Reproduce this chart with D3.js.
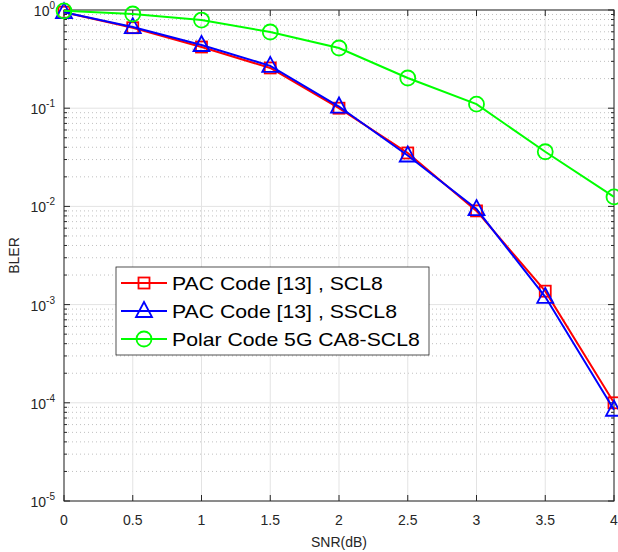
<!DOCTYPE html>
<html>
<head>
<meta charset="utf-8">
<script src="https://cdn.jsdelivr.net/npm/d3@7"></script>
<style>
  body { margin: 0; background: #fff; }
  text { font-family: "Liberation Sans", Arial, sans-serif; }
</style>
</head>
<body>
<div id="chart"></div>
<script>
// data
let snr = [0, 0.5, 1, 1.5, 2, 2.5, 3, 3.5, 4];
let pacScl = [0.95, 0.66, 0.42, 0.257, 0.1, 0.035, 0.009, 0.00137, 0.0001];
let pacSscl = [0.95, 0.67, 0.44, 0.27, 0.104, 0.033, 0.0094, 0.0012, 0.000085];
let polar5g = [0.98, 0.91, 0.79, 0.597, 0.41, 0.203, 0.11, 0.036, 0.0125];
let xTicks = [0, 0.5, 1, 1.5, 2, 2.5, 3, 3.5, 4];
let yExps = [0, -1, -2, -3, -4, -5];

let series = [
  { name: "PAC Code [13] , SCL8", values: pacScl, color: "#ff0000", marker: "square" },
  { name: "PAC Code [13] , SSCL8", values: pacSscl, color: "#0000ff", marker: "triangle" },
  { name: "Polar Code 5G CA8-SCL8", values: polar5g, color: "#00ff00", marker: "circle" }
];

let W = 618, H = 552;
let margin = { top: 10, right: 4, bottom: 51, left: 64 },
  width = W - margin.left - margin.right,
  height = H - margin.top - margin.bottom;

let x = d3.scaleLinear().domain([0, 4]).range([0, width]);
let y = d3.scaleLog().domain([1e-5, 1]).range([height, 0]);

let svg = d3.select("#chart").append("svg")
  .attr("width", W).attr("height", H);
let g = svg.append("g")
  .attr("transform", "translate(" + margin.left + "," + margin.top + ")");

// minor values for log grid
let minors = [];
for (let e = -5; e < 0; e++) {
  for (let m = 2; m <= 9; m++) minors.push(m * Math.pow(10, e));
}

// minor dotted grid
g.selectAll(".minor").data(minors).enter().append("line")
  .attr("x1", 0).attr("x2", width)
  .attr("y1", d => y(d)).attr("y2", d => y(d))
  .attr("stroke", "#b0b0b0").attr("stroke-width", 0.8)
  .attr("stroke-dasharray", "1,3");

// major grid
g.selectAll(".ymaj").data(yExps).enter().append("line")
  .attr("x1", 0).attr("x2", width)
  .attr("y1", d => y(Math.pow(10, d))).attr("y2", d => y(Math.pow(10, d)))
  .attr("stroke", "#e3e3e3").attr("stroke-width", 1);
g.selectAll(".xmaj").data(xTicks).enter().append("line")
  .attr("x1", d => x(d)).attr("x2", d => x(d))
  .attr("y1", 0).attr("y2", height)
  .attr("stroke", "#e3e3e3").attr("stroke-width", 1);

// box and ticks
let axisColor = "#262626";
g.append("rect").attr("width", width).attr("height", height)
  .attr("fill", "none").attr("stroke", axisColor).attr("stroke-width", 1);

xTicks.forEach(function(d) {
  g.append("line").attr("x1", x(d)).attr("x2", x(d)).attr("y1", height).attr("y2", height - 6)
    .attr("stroke", axisColor);
  g.append("line").attr("x1", x(d)).attr("x2", x(d)).attr("y1", 0).attr("y2", 6)
    .attr("stroke", axisColor);
  g.append("text").attr("x", x(d)).attr("y", height + 24)
    .attr("text-anchor", "middle").attr("font-size", 14).attr("fill", axisColor)
    .text(d);
});

yExps.forEach(function(e) {
  let yy = y(Math.pow(10, e));
  g.append("line").attr("x1", 0).attr("x2", 6).attr("y1", yy).attr("y2", yy).attr("stroke", axisColor);
  g.append("line").attr("x1", width).attr("x2", width - 6).attr("y1", yy).attr("y2", yy).attr("stroke", axisColor);
  let t = g.append("text").attr("x", -9).attr("y", yy + 6)
    .attr("text-anchor", "end").attr("font-size", 14).attr("fill", axisColor);
  t.append("tspan").text("10");
  t.append("tspan").attr("dy", -7).attr("font-size", 10).text(e);
});

minors.forEach(function(d) {
  g.append("line").attr("x1", 0).attr("x2", 3).attr("y1", y(d)).attr("y2", y(d)).attr("stroke", axisColor);
  g.append("line").attr("x1", width).attr("x2", width - 3).attr("y1", y(d)).attr("y2", y(d)).attr("stroke", axisColor);
});

// axis labels
svg.append("text").attr("x", margin.left + width / 2).attr("y", 547)
  .attr("text-anchor", "middle").attr("font-size", 14).attr("fill", axisColor)
  .text("SNR(dB)");
svg.append("text")
  .attr("transform", "translate(19," + (margin.top + height / 2) + ") rotate(-90)")
  .attr("text-anchor", "middle").attr("font-size", 14).attr("fill", axisColor)
  .text("BLER");

// lines and markers
let line = d3.line().x((d, i) => x(snr[i])).y(d => y(d));

function drawMarker(sel, type, color) {
  if (type === "square") {
    sel.append("rect").attr("x", -5.5).attr("y", -5.5).attr("width", 11).attr("height", 11)
      .attr("fill", "none").attr("stroke", color).attr("stroke-width", 1.8);
  } else if (type === "triangle") {
    sel.append("path").attr("d", "M0,-9 L8,6 L-8,6 Z")
      .attr("fill", "none").attr("stroke", color).attr("stroke-width", 1.8);
  } else {
    sel.append("circle").attr("r", 7.5)
      .attr("fill", "none").attr("stroke", color).attr("stroke-width", 1.8);
  }
}

let plot = g.append("g");
series.forEach(function(s) {
  plot.append("path").datum(s.values)
    .attr("d", line).attr("fill", "none")
    .attr("stroke", s.color).attr("stroke-width", 2);
  s.values.forEach(function(v, i) {
    let m = plot.append("g").attr("transform", "translate(" + x(snr[i]) + "," + y(v) + ")");
    drawMarker(m, s.marker, s.color);
  });
});

// legend
let leg = svg.append("g").attr("transform", "translate(116,267)");
leg.append("rect").attr("width", 313).attr("height", 88)
  .attr("fill", "#fff").attr("stroke", axisColor).attr("stroke-width", 0.8);
series.forEach(function(s, i) {
  let ly = 16 + i * 28;
  leg.append("line").attr("x1", 5).attr("x2", 51).attr("y1", ly).attr("y2", ly)
    .attr("stroke", s.color).attr("stroke-width", 2);
  let m = leg.append("g").attr("transform", "translate(28," + ly + ")");
  drawMarker(m, s.marker, s.color);
  leg.append("text").attr("transform", "translate(56," + (ly + 6.5) + ") scale(1.18,1)")
    .attr("font-size", 18).attr("fill", "#000").text(s.name);
});
</script>
</body>
</html>
